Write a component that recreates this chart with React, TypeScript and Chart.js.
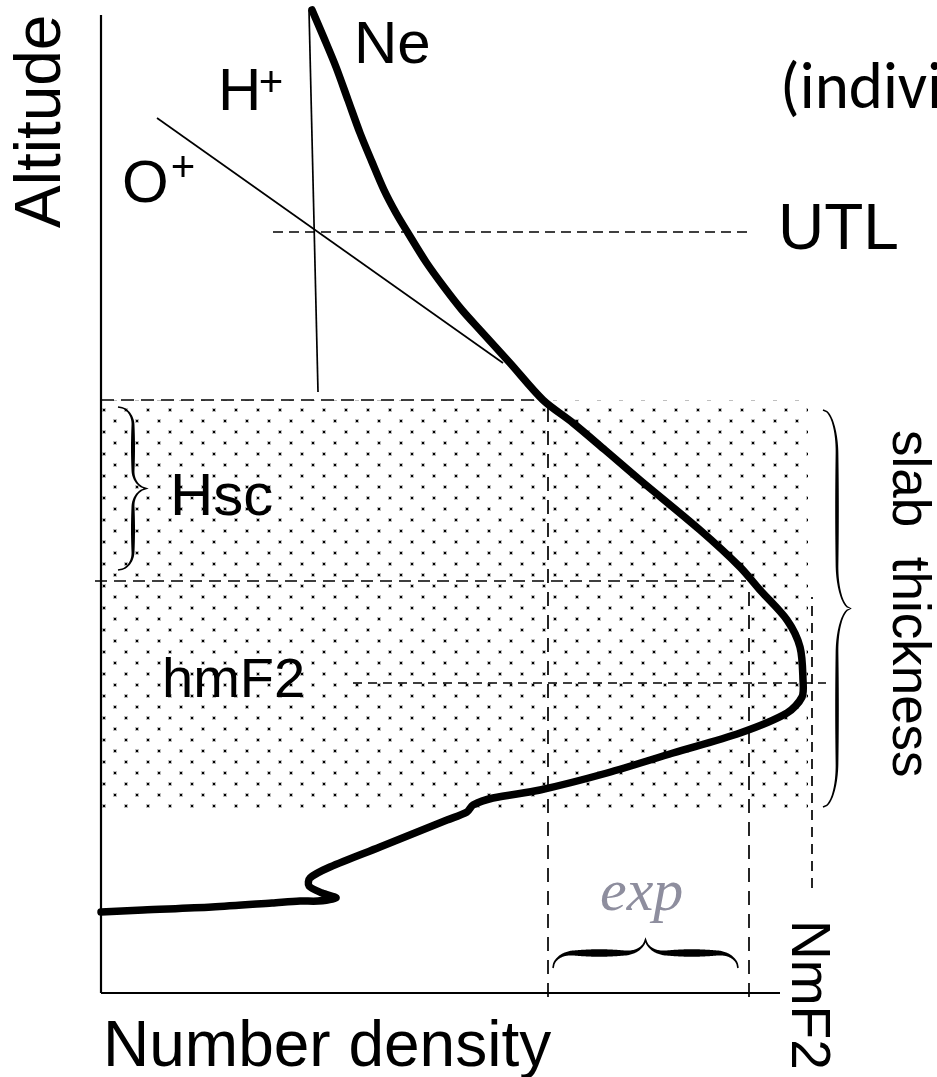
import React, { useEffect, useRef } from "react";
import { Chart, registerables } from "chart.js";

Chart.register(...registerables);

const CANVAS_W = 937;
const CANVAS_H = 1077;

// Schematic electron density profile Ne (arbitrary units: density, altitude)
const neDensity = [21.1, 22.3, 23.5, 24.7, 25.9, 27.1, 28.3, 29.5, 30.7, 32.5, 34.3, 36.1, 37.9, 40.9, 44.2, 47.2, 50.4, 53.9, 59.9, 63.9, 65.9, 68.6, 69.9, 70.2, 70.1, 68.6, 63.9, 57.2, 50.6, 43.9, 39.2, 37.2, 36.6, 34.6, 27.9, 22.9, 20.9, 20.8, 22.1, 23.5, 21.7, 19.9, 17.1, 11.1, 4.2, 0];
const neAltitude = [98.3, 95.5, 92.6, 89.3, 86.0, 83.1, 80.3, 78.0, 76.0, 73.1, 70.6, 68.3, 66.3, 63.0, 59.3, 57.0, 54.3, 51.3, 46.3, 42.6, 40.3, 37.3, 34.6, 31.3, 29.6, 28.0, 26.0, 24.0, 22.0, 20.3, 19.5, 18.8, 18.1, 17.3, 14.6, 12.6, 11.5, 10.7, 10.0, 9.5, 9.2, 9.2, 9.0, 8.6, 8.3, 8.1];

// H+ and O+ ion profiles (straight schematic lines)
const hPlusDensity = [20.8, 21.7];
const hPlusAltitude = [98.3, 60.1];
const oPlusDensity = [5.6, 40.2];
const oPlusAltitude = [87.5, 63.0];

// Characteristic levels
const utlAltitude = 76.1;
const utlDensityRange = [17.2, 65.2];
const slabTop = 59.3;
const slabBottom = 18.5;
const slabRightEdge = 70.7;
const slabTopLineEnd = 44.0;
const hscAltitude = 41.2;
const hscLineRange = [-0.6, 64.5];
const hmF2Altitude = 31.0;
const hmF2LineRange = [25.2, 72.5];
const nmF2Density = 71.1;
const nmF2LineRange = [10.5, 39.6];
const expLeftDensity = 44.7;
const expLeftRange = [-0.4, 58.8];
const expRightDensity = 64.8;
const expRightRange = [-0.4, 40.8];
const axisXEnd = 67.9;
const axisYEnd = 97.8;

const SANS = '"Liberation Sans", Arial, sans-serif';

type Pt = { x: number; y: number };
const pts = (xs: number[], ys: number[]): Pt[] => xs.map((x, i) => ({ x, y: ys[i] }));

function drawBrace(
  ctx: CanvasRenderingContext2D,
  x0: number, y0: number, x1: number, y1: number,
  depth: number, wMax: number, wMin: number
) {
  const L = Math.hypot(x1 - x0, y1 - y0);
  const dx = (x1 - x0) / L, dy = (y1 - y0) / L;
  const nx = dy, ny = -dx;
  const N = 240;
  const a = 0.22;
  const c: number[][] = [];
  for (let i = 0; i <= N; i++) {
    const t = i / N;
    const u = t <= 0.5 ? t / 0.5 : (1 - t) / 0.5;
    let g: number;
    if (u < a) {
      const v = u / a;
      g = 0.5 * Math.sqrt(Math.max(0, 1 - (1 - v) * (1 - v)));
    } else if (u > 1 - a) {
      const v = (u - (1 - a)) / a;
      g = 0.5 + 0.5 * (1 - Math.sqrt(Math.max(0, 1 - v * v)));
    } else g = 0.5;
    const s = t * L;
    const w = wMin + (wMax - wMin) * Math.pow(Math.sin(Math.PI * u), 1.2);
    c.push([x0 + dx * s + nx * depth * g, y0 + dy * s + ny * depth * g, w]);
  }
  const left: number[][] = [], right: number[][] = [];
  for (let i = 0; i <= N; i++) {
    const p = c[Math.max(0, i - 1)], q = c[Math.min(N, i + 1)];
    let tx = q[0] - p[0], ty = q[1] - p[1];
    const tl = Math.hypot(tx, ty) || 1;
    tx /= tl; ty /= tl;
    const mx = -ty, my = tx;
    const hw = c[i][2] / 2;
    left.push([c[i][0] + mx * hw, c[i][1] + my * hw]);
    right.push([c[i][0] - mx * hw, c[i][1] - my * hw]);
  }
  ctx.beginPath();
  ctx.moveTo(left[0][0], left[0][1]);
  for (let i = 1; i <= N; i++) ctx.lineTo(left[i][0], left[i][1]);
  for (let i = N; i >= 0; i--) ctx.lineTo(right[i][0], right[i][1]);
  ctx.closePath();
  ctx.fillStyle = "#000";
  ctx.fill();
}

const labelsPlugin = {
  id: "labels",
  afterDatasetsDraw(chart: any) {
    const ctx: CanvasRenderingContext2D = chart.ctx;
    const sx = chart.scales.x, sy = chart.scales.y;
    const X = (v: number) => sx.getPixelForValue(v);
    const Y = (v: number) => sy.getPixelForValue(v);
    ctx.save();

    // braces
    drawBrace(ctx, X(1.7), Y(58.6), X(1.7), Y(42.3), 30, 4, 1.5);
    drawBrace(ctx, X(72.2), Y(58.3), X(72.2), Y(18.6), 28, 3.6, 1.5);
    drawBrace(ctx, X(45.2), Y(2.5), X(63.7), Y(2.5), 30, 7.5, 1.6);

    const text = (
      s: string, x: number, y: number, size: number,
      opts: { rot?: number; align?: CanvasTextAlign; color?: string; family?: string; style?: string } = {}
    ) => {
      ctx.save();
      ctx.translate(X(x), Y(y));
      if (opts.rot) ctx.rotate(opts.rot);
      ctx.font = `${opts.style || ""} ${size}px ${opts.family || SANS}`;
      ctx.fillStyle = opts.color || "#000";
      ctx.textAlign = opts.align || "left";
      ctx.textBaseline = "alphabetic";
      ctx.fillText(s, 0, 0);
      ctx.restore();
    };

    text("Ne", 25.3, 93.0, 60);
    text("H", 11.7, 88.3, 60);
    text("+", 17.0, 89.7, 42, { align: "center" });
    text("O", 2.1, 79.1, 60);
    text("+", 8.2, 81.2, 42, { align: "center" });
    text("UTL", 67.7, 74.4, 64);
    text("(indivi", 67.9, 88.5, 65, { family: 'Carlito, Calibri, Lato, sans-serif' });
    text("Hsc", 6.9, 47.8, 60);
    text("hmF2", 6.1, 29.6, 56);
    text("exp", 49.9, 8.3, 60, { family: '"Liberation Serif", "DejaVu Serif", serif', style: "italic", color: "#8e8e9e" });
    text("Number density", 0.2, -7.3, 64);
    text("Altitude", -4.1, 76.5, 64, { rot: -Math.PI / 2 });
    text("slab  thickness", 79.2, 56.3, 53, { rot: Math.PI / 2 });
    text("NmF2", 69.1, 7.3, 55, { rot: Math.PI / 2 });

    ctx.restore();
  },
};

export default function App() {
  const ref = useRef<HTMLCanvasElement | null>(null);

  useEffect(() => {
    document.body.style.margin = "0";
    const canvas = ref.current;
    if (!canvas) return;
    const ctx = canvas.getContext("2d")!;

    const tile = document.createElement("canvas");
    tile.width = 22;
    tile.height = 22;
    const tc = tile.getContext("2d")!;
    tc.fillStyle = "rgba(0,0,0,0.25)";
    tc.fillRect(3, 1, 4, 4);
    tc.fillRect(14, 12, 4, 4);
    tc.fillStyle = "#000";
    tc.fillRect(4, 2, 2, 2);
    tc.fillRect(15, 13, 2, 2);
    const pattern = ctx.createPattern(tile, "repeat")!;

    const base = {
      showLine: true,
      pointRadius: 0,
      pointHoverRadius: 0,
      clip: false as const,
      borderColor: "#000",
      borderWidth: 1.7,
      fill: false,
      tension: 0,
    };

    const datasets: any[] = [
      {
        ...base,
        label: "slab",
        data: pts([0, slabRightEdge], [slabTop, slabTop]),
        borderWidth: 0,
        borderColor: "rgba(0,0,0,0)",
        backgroundColor: pattern,
        fill: { value: slabBottom },
        order: 10,
      },
      { ...base, label: "axisY", data: pts([0, 0], [0, axisYEnd]), borderWidth: 2.2, order: 4 },
      { ...base, label: "axisX", data: pts([0, axisXEnd], [0, 0]), borderWidth: 2.2, order: 4 },
      { ...base, label: "UTL", data: pts(utlDensityRange, [utlAltitude, utlAltitude]), borderDash: [10, 6], order: 5 },
      { ...base, label: "slabTop", data: pts([0, slabTopLineEnd], [slabTop, slabTop]), borderDash: [13, 7], order: 5 },
      { ...base, label: "Hsc", data: pts(hscLineRange, [hscAltitude, hscAltitude]), borderDash: [12, 7], order: 5 },
      { ...base, label: "hmF2", data: pts(hmF2LineRange, [hmF2Altitude, hmF2Altitude]), borderDash: [9, 6], order: 5 },
      { ...base, label: "NmF2", data: pts([nmF2Density, nmF2Density], nmF2LineRange), borderDash: [10, 7], order: 5 },
      { ...base, label: "expL", data: pts([expLeftDensity, expLeftDensity], expLeftRange), borderDash: [14, 9], order: 5 },
      { ...base, label: "expR", data: pts([expRightDensity, expRightDensity], expRightRange), borderDash: [14, 9], order: 5 },
      { ...base, label: "H+", data: pts(hPlusDensity, hPlusAltitude), borderWidth: 1.7, order: 3 },
      { ...base, label: "O+", data: pts(oPlusDensity, oPlusAltitude), borderWidth: 1.7, order: 3 },
      {
        ...base,
        label: "Ne",
        data: pts(neDensity, neAltitude),
        borderColor: "#000",
        borderWidth: 7.5,
        tension: 0.3,
        borderJoinStyle: "round",
        borderCapStyle: "round",
        order: 0,
      },
    ];

    const chart = new Chart(canvas, {
      type: "line",
      data: { datasets },
      options: {
        animation: false,
        responsive: false,
        maintainAspectRatio: false,
        devicePixelRatio: 1,
        layout: { padding: { left: 101, right: 36, top: 3, bottom: 84 } },
        scales: {
          x: { type: "linear", min: 0, max: 80, display: false },
          y: { type: "linear", min: 0, max: 99, display: false },
        },
        plugins: { legend: { display: false }, tooltip: { enabled: false } },
        events: [],
      },
      plugins: [labelsPlugin],
    } as any);

    return () => chart.destroy();
  }, []);

  return (
    <div style={{ width: CANVAS_W, height: CANVAS_H, background: "#fff", overflow: "hidden" }}>
      <canvas ref={ref} width={CANVAS_W} height={CANVAS_H} style={{ display: "block" }} />
    </div>
  );
}
